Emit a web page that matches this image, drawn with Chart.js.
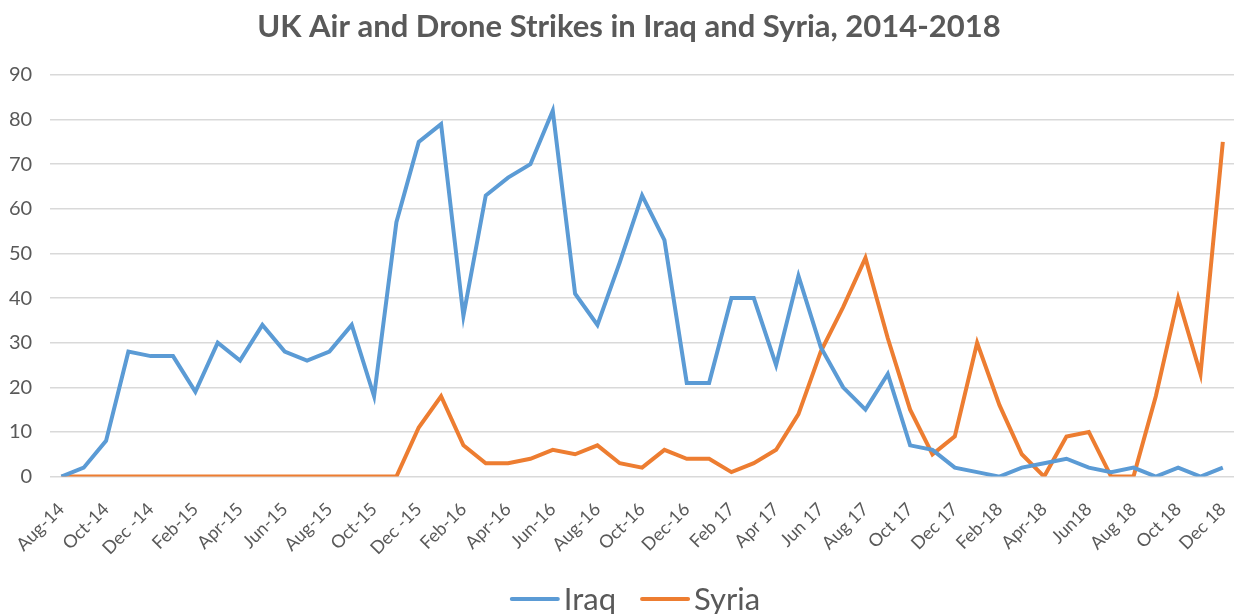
<!DOCTYPE html>
<html>
<head>
<meta charset="utf-8">
<script src="https://cdn.jsdelivr.net/npm/chart.js@4/dist/chart.umd.min.js"></script>
<style>
  html, body { margin: 0; padding: 0; background: #fff; }
  #wrap { width: 1234px; height: 614px; position: relative; }
</style>
</head>
<body>
<div id="wrap"><canvas id="strikesChart"></canvas></div>
<script>
// one entry per month, Aug 2014 .. Dec 2018
const months = [
  'Aug-14', 'Sep-14', 'Oct-14', 'Nov-14', 'Dec-14',
  'Jan-15', 'Feb-15', 'Mar-15', 'Apr-15', 'May-15', 'Jun-15', 'Jul-15', 'Aug-15', 'Sep-15', 'Oct-15', 'Nov-15', 'Dec-15',
  'Jan-16', 'Feb-16', 'Mar-16', 'Apr-16', 'May-16', 'Jun-16', 'Jul-16', 'Aug-16', 'Sep-16', 'Oct-16', 'Nov-16', 'Dec-16',
  'Jan-17', 'Feb-17', 'Mar-17', 'Apr-17', 'May-17', 'Jun-17', 'Jul-17', 'Aug-17', 'Sep-17', 'Oct-17', 'Nov-17', 'Dec-17',
  'Jan-18', 'Feb-18', 'Mar-18', 'Apr-18', 'May-18', 'Jun-18', 'Jul-18', 'Aug-18', 'Sep-18', 'Oct-18', 'Nov-18', 'Dec-18'
];

// axis text as printed on the original (every second month)
const tickLabels = [
  'Aug-14', 'Oct-14', 'Dec -14', 'Feb-15', 'Apr-15', 'Jun-15', 'Aug-15', 'Oct-15', 'Dec -15',
  'Feb-16', 'Apr-16', 'Jun-16', 'Aug-16', 'Oct-16', 'Dec-16', 'Feb 17', 'Apr 17', 'Jun 17',
  'Aug 17', 'Oct 17', 'Dec 17', 'Feb-18', 'Apr-18', 'Jun18', 'Aug 18', 'Oct 18', 'Dec 18'
];

const iraq = [
  0, 2, 8, 28, 27,
  27, 19, 30, 26, 34, 28, 26, 28, 34, 18, 57, 75,
  79, 36, 63, 67, 70, 82, 41, 34, 48, 63, 53, 21,
  21, 40, 40, 25, 45, 29, 20, 15, 23, 7, 6, 2,
  1, 0, 2, 3, 4, 2, 1, 2, 0, 2, 0, 2
];

const syria = [
  0, 0, 0, 0, 0,
  0, 0, 0, 0, 0, 0, 0, 0, 0, 0, 0, 11,
  18, 7, 3, 3, 4, 6, 5, 7, 3, 2, 6, 4,
  4, 1, 3, 6, 14, 28, 38, 49, 31, 15, 5, 9,
  30, 16, 5, 0, 9, 10, 0, 0, 18, 40, 23, 75
];

const yTicks = [0, 10, 20, 30, 40, 50, 60, 70, 80, 90];

const chartTitle = 'UK Air and Drone Strikes in Iraq and Syria, 2014-2018';
const textColor = '#595959';
const fontFamily = 'Lato, "Open Sans", sans-serif';

// Excel-style title and legend (long line, text right next to it)
const excelDecor = {
    id: 'excelDecor',
    afterDraw(chart) {
        const c = chart.ctx;
        c.save();
        c.fillStyle = textColor;
        c.textBaseline = 'middle';
        c.textAlign = 'center';
        c.font = 'bold 31px ' + fontFamily;
        c.fillText(chartTitle, chart.width / 2 + 12, 27);

        const lineLen = 50, gap = 4, itemGap = 24;
        c.font = '31px ' + fontFamily;
        c.textAlign = 'left';
        const items = chart.data.datasets.map(ds => ({
            text: ds.label,
            color: ds.borderColor,
            w: c.measureText(ds.label).width
        }));
        const total = items.reduce((s, it) => s + lineLen + gap + it.w, 0) + itemGap * (items.length - 1);
        let x = chart.width / 2 + 18 - total / 2;
        const y = 600;
        items.forEach(it => {
            c.strokeStyle = it.color;
            c.lineWidth = 4;
            c.lineCap = 'round';
            c.beginPath();
            c.moveTo(x + 2, y - 1);
            c.lineTo(x + lineLen - 2, y - 1);
            c.stroke();
            c.fillText(it.text, x + lineLen + gap, y);
            x += lineLen + gap + it.w + itemGap;
        });
        c.restore();
    }
};

const ctx = document.getElementById('strikesChart').getContext('2d');
new Chart(ctx, {
    type: 'line',
    data: {
        labels: months,
        datasets: [
            {
                label: 'Iraq',
                data: iraq,
                borderColor: '#5B9BD5',
                backgroundColor: '#5B9BD5',
                borderWidth: 4,
                pointRadius: 0,
                tension: 0
            },
            {
                label: 'Syria',
                data: syria,
                borderColor: '#ED7D31',
                backgroundColor: '#ED7D31',
                borderWidth: 4,
                pointRadius: 0,
                tension: 0
            }
        ]
    },
    plugins: [excelDecor],
    options: {
        responsive: true,
        maintainAspectRatio: false,
        animation: false,
        layout: { padding: { left: -9, right: 0, top: 75, bottom: 41 } },
        scales: {
            x: {
                offset: true,
                grid: { display: false },
                border: { display: false },
                // rotated labels may spill into the margins, like in Excel
                afterFit: axis => { axis.paddingLeft = 0; axis.paddingRight = 0; },
                ticks: {
                    autoSkip: false,
                    minRotation: 45,
                    maxRotation: 45,
                    color: textColor,
                    font: { family: fontFamily, size: 18 },
                    padding: 14,
                    callback: (val, i) => (i % 2 === 0 ? tickLabels[i / 2] : '')
                }
            },
            y: {
                min: 0,
                max: 90,
                afterBuildTicks: axis => { axis.ticks = yTicks.map(v => ({ value: v })); },
                grid: { color: '#d9d9d9', lineWidth: 1.5, drawTicks: false },
                border: { display: false },
                ticks: {
                    color: textColor,
                    font: { family: fontFamily, size: 20 },
                    padding: 18
                }
            }
        },
        plugins: {
            title: { display: false },
            legend: { display: false },
            tooltip: { enabled: false }
        }
    }
});
</script>
</body>
</html>
